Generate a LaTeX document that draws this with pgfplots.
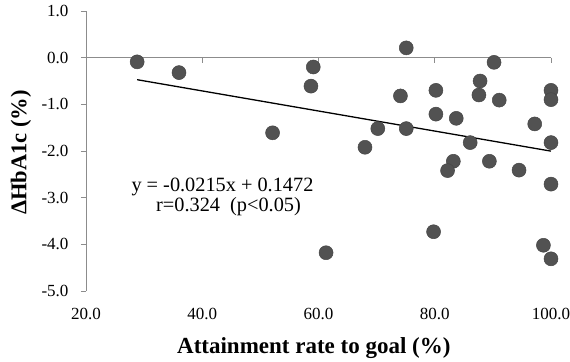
\documentclass[border=0pt]{standalone}
\usepackage{pgfplots}
\pgfplotsset{compat=1.18}
\usepackage{fontspec}
\setmainfont{Liberation Serif}
\definecolor{axisgray}{RGB}{140,140,140}
\definecolor{dotfill}{RGB}{82,82,82}
\definecolor{dotdraw}{RGB}{70,70,70}
\begin{document}
\begin{tikzpicture}
\begin{axis}[
  scale only axis, width=465bp, height=280bp,
  xmin=20, xmax=100, ymin=-5, ymax=1,
  axis lines*=left,
  x axis line style={draw=none},
  y axis line style={axisgray, line width=0.8bp},
  xtick={20,40,60,80,100},
  ytick={-5,-4,-3,-2,-1,0,1},
  xtick style={draw=none},
  ytick style={axisgray, line width=0.8bp},
  tick align=outside,
  major tick length=5bp,
  /pgf/number format/assume math mode=true,
  /pgf/number format/.cd, fixed, fixed zerofill, precision=1, /pgfplots/.cd,
  tick label style={font=\fontsize{17bp}{20bp}\selectfont},
  xticklabel style={yshift=-9bp},
  yticklabel style={xshift=-9bp},
  xlabel={Attainment rate to goal (\%)},
  xlabel style={font=\fontsize{23bp}{26bp}\selectfont\bfseries, at={(axis description cs:0.49,0)}, anchor=base, yshift=-62bp},
  ylabel={ΔHbA1c (\%)},
  ylabel style={font=\fontsize{22.5bp}{26bp}\selectfont\bfseries, at={(axis description cs:-0.1398,0.495)}, anchor=center},
  clip=false,
]
\draw[axisgray, line width=0.8bp] (axis cs:20,0) -- (axis cs:100,0);
\draw[axisgray, line width=0.8bp] (axis cs:40,0) -- ([yshift=-5bp]axis cs:40,0);
\draw[axisgray, line width=0.8bp] (axis cs:60,0) -- ([yshift=-5bp]axis cs:60,0);
\draw[axisgray, line width=0.8bp] (axis cs:80,0) -- ([yshift=-5bp]axis cs:80,0);
\draw[axisgray, line width=0.8bp] (axis cs:100,0) -- ([yshift=-5bp]axis cs:100,0);
\addplot[black, line width=1.3bp] coordinates {(28.8,-0.4720) (100,-2.0028)};
\addplot[only marks, mark=*, mark size=7bp, mark options={fill=dotfill, draw=dotdraw, line width=0.5bp}] coordinates {
(28.8,-0.09) (36.0,-0.32) (52.1,-1.61) (59.1,-0.20) (58.7,-0.61)
(75.1,0.21) (90.2,-0.10) (87.8,-0.50) (80.2,-0.70) (100,-0.70)
(74.1,-0.82) (87.6,-0.80) (91.1,-0.91) (100,-0.90) (80.2,-1.21)
(83.7,-1.30) (97.2,-1.42) (70.2,-1.52) (75.1,-1.52) (86.1,-1.82)
(100,-1.82) (68.0,-1.92) (83.2,-2.22) (89.4,-2.22) (82.2,-2.42)
(94.5,-2.41) (100,-2.71) (79.8,-3.73) (61.3,-4.18) (98.7,-4.02)
(100,-4.31)
};
\node[anchor=base, font=\fontsize{20.3bp}{24bp}\selectfont] at (axis cs:43.48,-2.878) {y = -0.0215x + 0.1472};
\node[anchor=base, font=\fontsize{20.3bp}{24bp}\selectfont] at (axis cs:44.52,-3.307) {r=0.324\hspace{0.5em}(p<0.05)};
\end{axis}
\pgfresetboundingbox
\path (-86bp,-71bp) rectangle (484bp,291bp);
\end{tikzpicture}
\end{document}
